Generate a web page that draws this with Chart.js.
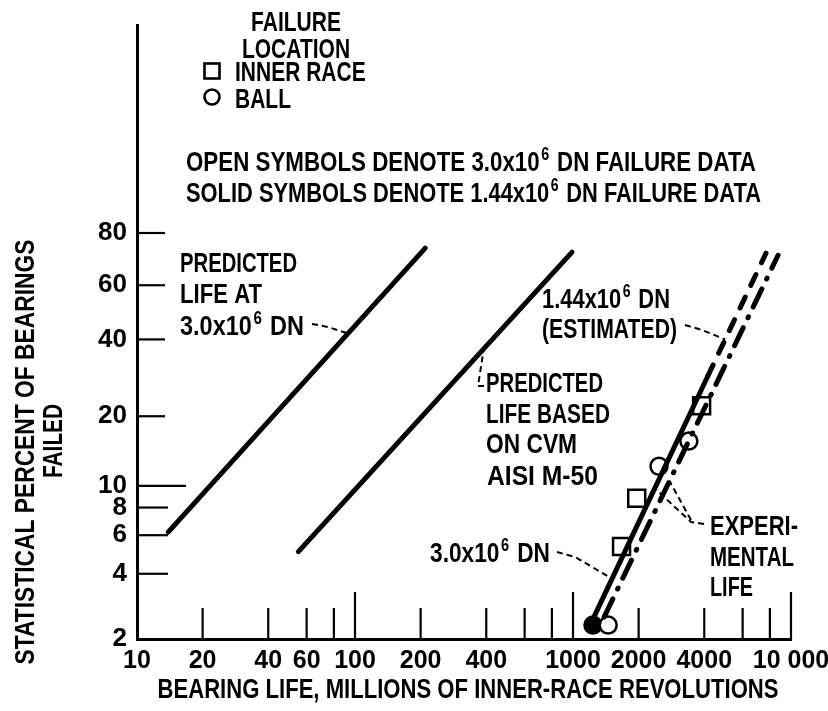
<!DOCTYPE html>
<html><head><meta charset="utf-8">
<script src="https://cdn.jsdelivr.net/npm/chart.js@4.4.1/dist/chart.umd.min.js"></script>
<style>html,body{margin:0;padding:0;background:#fff}canvas{display:block}</style>
</head><body>
<canvas id="c" width="828" height="711"></canvas>
<script>
// ---------------- DATA ----------------
// Bearing life (millions of inner-race revolutions) and statistical percent failed
const PRED30_LIFE = [13.9, 210];
const PRED30_PCT  = [6.2, 74.5];
const PREDCVM_LIFE = [55, 990];
const PREDCVM_PCT  = [5.05, 73.0];
// experimental life at 3.0x10^6 DN: solid over the data range, dashed extension
const EXP30_LIFE = [1210, 4160, 7680];
const EXP30_PCT  = [2.37, 29.2, 72.6];
// 1.44x10^6 DN (estimated)
const EST144_LIFE = [1390, 8720];
const EST144_PCT  = [2.53, 71.8];
// failure data
const INNER_OPEN_LIFE = [1670, 1960, 3890];
const INNER_OPEN_PCT  = [5.33, 8.8, 22.1];
const BALL_OPEN_LIFE = [1450, 2480, 3400];
const BALL_OPEN_PCT  = [2.32, 12.2, 15.7];
const BALL_SOLID_LIFE = [1235];
const BALL_SOLID_PCT  = [2.32];
// axes
const X_TICK_VALUES = [10, 20, 40, 60, 80, 100, 200, 400, 600, 800, 1000, 2000, 4000, 6000, 8000, 10000];
const X_TICK_LABELS = ['10', '20', '40', '60', '', '100', '200', '400', '', '', '1000', '2000', '4000', '', '', '10 000'];
const Y_TICK_VALUES = [2, 4, 6, 8, 10, 20, 40, 60, 80];
const Y_TICK_LABELS = ['2', '4', '6', '8', '10', '20', '40', '60', '80'];
const X_TITLE = 'BEARING LIFE, MILLIONS OF INNER-RACE REVOLUTIONS';
const Y_TITLE = ['STATISTICAL PERCENT OF BEARINGS', 'FAILED'];

// ---------------- helpers ----------------
const FAM = "'Liberation Sans', Arial, sans-serif";
const MAIN = 'bold 28px ' + FAM;
const SUPF = 'bold 18px ' + FAM;
const SQUEEZE = 0.75;          // condensed look of the original lettering
const weib = p => Math.log(-Math.log(1 - p / 100));
const pts = (xs, ps) => xs.map((x, i) => ({x: x, y: weib(ps[i])}));

const lineStyle = {showLine: true, borderColor: '#000', borderWidth: 5, pointRadius: 0,
  borderCapStyle: 'round', fill: false, tension: 0};

const datasets = [
  Object.assign({label: 'Predicted life at 3.0x10^6 DN', data: pts(PRED30_LIFE, PRED30_PCT)}, lineStyle),
  Object.assign({label: 'Predicted life based on CVM AISI M-50', data: pts(PREDCVM_LIFE, PREDCVM_PCT)}, lineStyle),
  Object.assign({label: 'Experimental 3.0x10^6 DN', data: pts(EXP30_LIFE, EXP30_PCT),
    segment: {borderDash: c => c.p0DataIndex >= 1 ? [12, 13] : undefined}}, lineStyle),
  Object.assign({label: '1.44x10^6 DN (estimated)', data: pts(EST144_LIFE, EST144_PCT),
    borderDash: [20, 11, 1, 11]}, lineStyle),
  {label: 'Inner race (open)', data: pts(INNER_OPEN_LIFE, INNER_OPEN_PCT), showLine: false,
    pointStyle: 'rect', pointRadius: 12, pointBackgroundColor: '#fff', pointBorderColor: '#000', pointBorderWidth: 2.5},
  {label: 'Ball (open)', data: pts(BALL_OPEN_LIFE, BALL_OPEN_PCT), showLine: false,
    pointStyle: 'circle', pointRadius: 8.5, pointBackgroundColor: '#fff', pointBorderColor: '#000', pointBorderWidth: 2.5},
  {label: 'Ball (solid)', data: pts(BALL_SOLID_LIFE, BALL_SOLID_PCT), showLine: false,
    pointStyle: 'circle', pointRadius: 8.5, pointBackgroundColor: '#000', pointBorderColor: '#000', pointBorderWidth: 2.5}
];

// point on a drawn line at a given percent (through the scales)
function onLine(chart, lifeArr, pctArr, pct) {
  const x = chart.scales.x, y = chart.scales.y;
  const P = lifeArr.map((v, i) => [x.getPixelForValue(v), y.getPixelForValue(weib(pctArr[i]))]);
  const py = y.getPixelForValue(weib(pct));
  for (let i = 0; i < P.length - 1; i++) {
    const a = P[i], b = P[i + 1];
    if ((py - a[1]) * (py - b[1]) <= 0) {
      const t = (py - a[1]) / (b[1] - a[1]);
      return [a[0] + t * (b[0] - a[0]), py];
    }
  }
  return P[0];
}

// draws text (with optional superscripts) squeezed horizontally; width = target width if given
function drawRich(ctx, parts, x, y, align, width) {
  let w = 0;
  parts.forEach(p => {
    const isStr = typeof p === 'string';
    ctx.font = isStr ? MAIN : SUPF;
    w += ctx.measureText(isStr ? p : p.s).width + (isStr ? 0 : 4);
  });
  const k = width ? width / w : SQUEEZE;
  ctx.save();
  ctx.translate(align === 'center' ? x - w * k / 2 : x, y);
  ctx.scale(k, 1);
  ctx.textAlign = 'left';
  let cx = 0;
  parts.forEach(p => {
    if (typeof p === 'string') { ctx.font = MAIN; ctx.fillText(p, cx, 0); cx += ctx.measureText(p).width; }
    else { ctx.font = SUPF; ctx.fillText(p.s, cx + 2, -11); cx += ctx.measureText(p.s).width + 4; }
  });
  ctx.restore();
}

// annotation layout (text positions / widths in canvas pixels)
const NOTES = [
  {parts: ['FAILURE'], x: 296, y: 31, align: 'center'},
  {parts: ['LOCATION'], x: 296, y: 58, align: 'center'},
  {parts: ['INNER RACE'], x: 235, y: 81},
  {parts: ['BALL'], x: 235, y: 108},
  {parts: ['OPEN SYMBOLS DENOTE 3.0x10', {s: '6'}, ' DN FAILURE DATA'], x: 186, y: 171, w: 570},
  {parts: ['SOLID SYMBOLS DENOTE 1.44x10', {s: '6'}, ' DN FAILURE DATA'], x: 186, y: 202, w: 575},
  {parts: ['PREDICTED'], x: 180, y: 272, w: 117},
  {parts: ['LIFE AT'], x: 180, y: 303, w: 82},
  {parts: ['3.0x10', {s: '6'}, ' DN'], x: 180, y: 335, w: 124},
  {parts: ['1.44x10', {s: '6'}, ' DN'], x: 542, y: 308, w: 128},
  {parts: ['(ESTIMATED)'], x: 542, y: 338, w: 135},
  {parts: ['PREDICTED'], x: 486, y: 392, w: 117},
  {parts: ['LIFE BASED'], x: 486, y: 423, w: 124},
  {parts: ['ON CVM'], x: 486, y: 453, w: 91},
  {parts: ['AISI M-50'], x: 487, y: 485, w: 111},
  {parts: ['3.0x10', {s: '6'}, ' DN'], x: 430, y: 562, w: 120},
  {parts: ['EXPERI-'], x: 710, y: 535, w: 88},
  {parts: ['MENTAL'], x: 710, y: 566, w: 84},
  {parts: ['LIFE'], x: 710, y: 596, w: 43}
];

const decor = {
  id: 'decor',
  beforeDatasetsDraw(chart) {
    const {ctx, chartArea: a, scales: {x, y}} = chart;
    ctx.save();
    ctx.strokeStyle = '#000'; ctx.lineWidth = 2.2; ctx.lineCap = 'butt';
    X_TICK_VALUES.forEach(v => {
      if (v === X_TICK_VALUES[0]) return;
      const px = x.getPixelForValue(v);
      const major = Math.abs(Math.log10(v) - Math.round(Math.log10(v))) < 1e-9;
      ctx.beginPath(); ctx.moveTo(px, a.bottom); ctx.lineTo(px, a.bottom - (major ? 47 : 31)); ctx.stroke();
    });
    Y_TICK_VALUES.forEach(p => {
      if (p === Y_TICK_VALUES[0]) return;
      const py = y.getPixelForValue(weib(p));
      const len = p === 10 ? 49 : (p <= 8 ? 31 : 28);
      ctx.beginPath(); ctx.moveTo(a.left, py); ctx.lineTo(a.left + len, py); ctx.stroke();
    });
    ctx.restore();
  },
  afterDraw(chart) {
    const {ctx, chartArea: a} = chart;
    ctx.save();
    ctx.fillStyle = '#000'; ctx.textBaseline = 'alphabetic';
    NOTES.forEach(n => drawRich(ctx, n.parts, n.x, n.y, n.align, n.w));
    // x-axis title
    ctx.textBaseline = 'middle';
    drawRich(ctx, [X_TITLE], 468, 690, 'center', 621);
    // y-axis title (two rotated lines)
    ctx.save(); ctx.translate(26, 452); ctx.rotate(-Math.PI / 2);
    drawRich(ctx, [Y_TITLE[0]], 0, 0, 'center', 425); ctx.restore();
    ctx.save(); ctx.translate(54, 441); ctx.rotate(-Math.PI / 2);
    drawRich(ctx, [Y_TITLE[1]], 0, 0, 'center', 74); ctx.restore();
    // legend symbols
    ctx.strokeStyle = '#000'; ctx.lineWidth = 2.6;
    ctx.strokeRect(204.5, 63.5, 15, 15);
    ctx.beginPath(); ctx.arc(212, 97, 7.5, 0, Math.PI * 2); ctx.stroke();
    // leader lines
    ctx.lineWidth = 2; ctx.setLineDash([6, 4]);
    const path = q => { ctx.beginPath(); ctx.moveTo(q[0][0], q[0][1]); q.slice(1).forEach(r => ctx.lineTo(r[0], r[1])); ctx.stroke(); };
    path([[312, 324], [328, 327], onLine(chart, PRED30_LIFE, PRED30_PCT, 42)]);
    path([[484, 386], [478, 386], onLine(chart, PREDCVM_LIFE, PREDCVM_PCT, 37)]);
    path([[685, 325], [702, 330], onLine(chart, EXP30_LIFE, EXP30_PCT, 40)]);
    path([[557, 552], [575, 557], onLine(chart, EXP30_LIFE, EXP30_PCT, 3.8)]);
    path([[704, 524], [691, 522], onLine(chart, EXP30_LIFE, EXP30_PCT, 9.75)]);
    path([[691, 520], onLine(chart, EST144_LIFE, EST144_PCT, 10.5)]);
    ctx.restore();
  }
};

new Chart(document.getElementById('c'), {
  type: 'scatter',
  data: {datasets: datasets},
  options: {
    responsive: false, animation: false, events: [],
    layout: {padding: {top: 25, right: 37, left: 0, bottom: 0}},
    plugins: {legend: {display: false}, tooltip: {enabled: false}},
    scales: {
      x: {
        type: 'logarithmic', min: 10, max: 10000,
        afterFit(s) { s.height = 72; s.paddingLeft = 0; s.paddingRight = 0; },
        afterBuildTicks(s) { s.ticks = X_TICK_VALUES.map(v => ({value: v})); },
        ticks: {autoSkip: false, maxRotation: 0, minRotation: 0, padding: 7, color: '#000',
          font: {family: FAM, size: 25, weight: 'bold'},
          callback: v => { const i = X_TICK_VALUES.indexOf(v); return i < 0 ? '' : X_TICK_LABELS[i]; }},
        grid: {display: false, drawTicks: false},
        border: {display: true, color: '#000', width: 3}
      },
      y: {
        type: 'linear', min: weib(2), max: 2.7187,
        afterFit(s) { s.width = 137; s.paddingTop = 0; s.paddingBottom = 0; },
        afterBuildTicks(s) { s.ticks = Y_TICK_VALUES.map(p => ({value: weib(p)})); },
        ticks: {autoSkip: false, padding: 10, color: '#000',
          font: {family: FAM, size: 26, weight: 'bold'},
          callback: (v, i) => Y_TICK_LABELS[i]},
        grid: {display: false, drawTicks: false},
        border: {display: true, color: '#000', width: 3}
      }
    }
  },
  plugins: [decor]
});
</script>
</body></html>
